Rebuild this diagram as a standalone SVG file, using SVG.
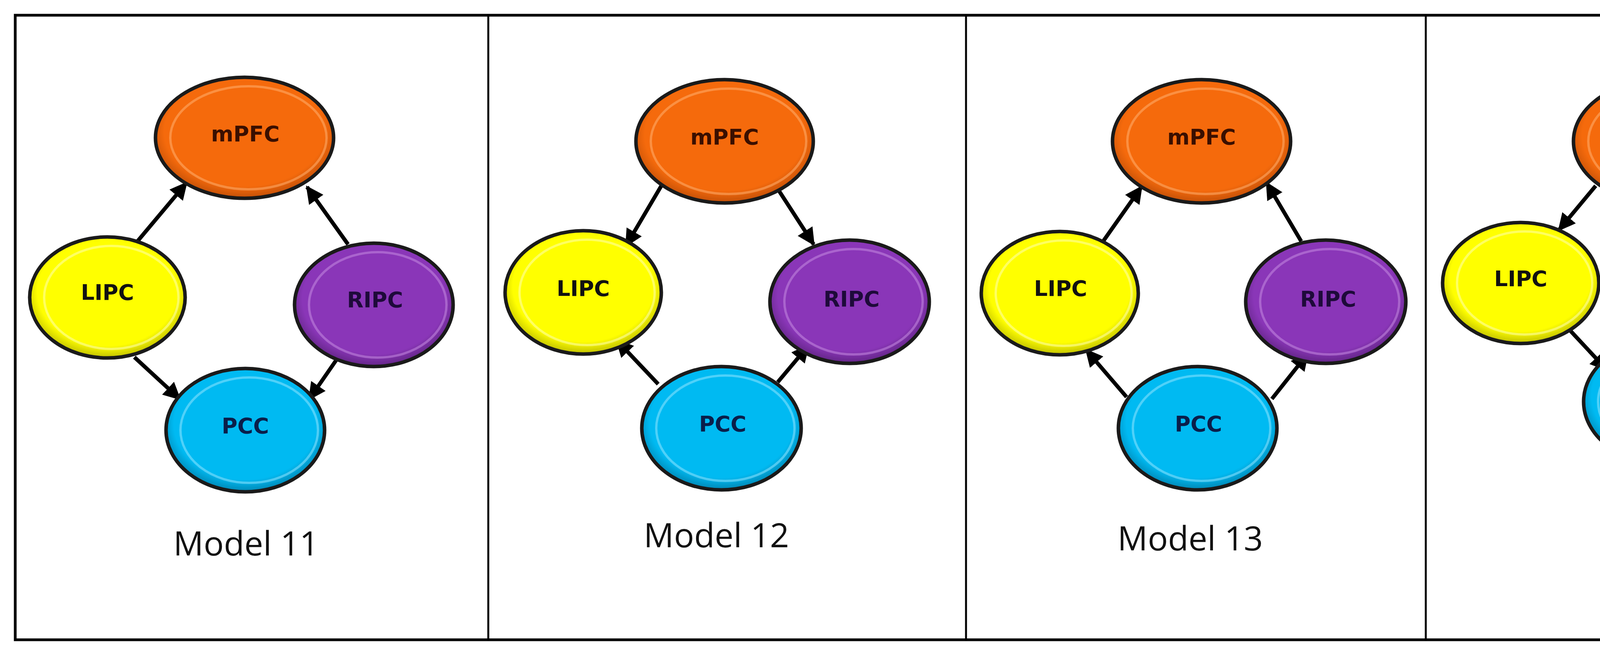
<svg xmlns="http://www.w3.org/2000/svg" width="6088" height="1678" viewBox="0 0 6088 1678">
<defs>
<style>
.frame{fill:#fff;stroke:#000;stroke-width:7}
.div{stroke:#000;stroke-width:5}
.node{stroke:#1a1a1a;stroke-width:9}
.ring{fill:none;stroke-width:6;stroke-opacity:0.55}
.o{fill:url(#go)} .y{fill:url(#gy)} .p{fill:url(#gp)} .c{fill:url(#gc)}
.ro{stroke:#ffae70} .ry{stroke:#ffffb0} .rp{stroke:#c48ae0} .rc{stroke:#8fe4ff}
.nt{font-family:"DejaVu Sans",Verdana,sans-serif;font-weight:bold;font-size:55px;text-anchor:middle}
.lbl{font-family:"Open Sans","Liberation Sans",sans-serif;font-size:86px;text-anchor:middle;fill:#111}
.ar{stroke:#000;stroke-width:10;fill:none;marker-end:url(#ah)}
</style>
<radialGradient id="go" cx="0.5" cy="0.45" r="0.6"><stop offset="0.75" stop-color="#f56a0c"/><stop offset="1" stop-color="#a84205"/></radialGradient>
<radialGradient id="gy" cx="0.5" cy="0.45" r="0.6"><stop offset="0.75" stop-color="#ffff00"/><stop offset="1" stop-color="#a0a000"/></radialGradient>
<radialGradient id="gp" cx="0.5" cy="0.45" r="0.6"><stop offset="0.75" stop-color="#8a36b8"/><stop offset="1" stop-color="#4e1c6c"/></radialGradient>
<radialGradient id="gc" cx="0.5" cy="0.45" r="0.6"><stop offset="0.75" stop-color="#00baf2"/><stop offset="1" stop-color="#006c94"/></radialGradient>
<marker id="ah" viewBox="0 0 10 10" refX="9" refY="5" markerWidth="4.5" markerHeight="4.5" orient="auto" markerUnits="strokeWidth"><path d="M0,0 L10,5 L0,10 z" fill="#000"/></marker>
</defs>
<rect class="frame" x="39" y="39" width="6007" height="1600"/>
<g id="dividers">
<line class="div" x1="1250" y1="39" x2="1250" y2="1639"/>
<line class="div" x1="2473" y1="39" x2="2473" y2="1639"/>
<line class="div" x1="3650" y1="39" x2="3650" y2="1639"/>
<line class="div" x1="4873" y1="39" x2="4873" y2="1639"/>
</g>
<g id="connectors">
<line class="ar" x1="352" y1="618" x2="477" y2="469"/>
<line class="ar" x1="891" y1="626" x2="786" y2="479"/>
<line class="ar" x1="344" y1="915" x2="460" y2="1022"/>
<line class="ar" x1="866" y1="915" x2="792" y2="1022"/>
<line class="ar" x1="1693" y1="476" x2="1603" y2="629"/>
<line class="ar" x1="1993" y1="487" x2="2083" y2="626"/>
<line class="ar" x1="1685" y1="984" x2="1579" y2="872"/>
<line class="ar" x1="1991" y1="979" x2="2069" y2="886"/>
<line class="ar" x1="2815" y1="631" x2="2922" y2="479"/>
<line class="ar" x1="3331" y1="618" x2="3243" y2="469"/>
<line class="ar" x1="2884" y1="1017" x2="2781" y2="897"/>
<line class="ar" x1="3256" y1="1022" x2="3347" y2="907"/>
<line class="ar" x1="4085" y1="476" x2="3991" y2="589"/>
<line class="ar" x1="4407" y1="487" x2="4490" y2="602"/>
<line class="ar" x1="4018" y1="845" x2="4113" y2="947"/>
<line class="ar" x1="4512" y1="856" x2="4434" y2="955"/>
<line class="ar" x1="5126" y1="565" x2="5259" y2="417"/>
<line class="ar" x1="5322" y1="482" x2="5205" y2="612"/>
<line class="ar" x1="5812" y1="576" x2="5687" y2="423"/>
<line class="ar" x1="5646" y1="484" x2="5741" y2="599"/>
<line class="ar" x1="5170" y1="877" x2="5308" y2="1006"/>
<line class="ar" x1="5343" y1="950" x2="5221" y2="845"/>
<line class="ar" x1="5647" y1="950" x2="5746" y2="865"/>
<line class="ar" x1="5801" y1="880" x2="5687" y2="1000"/>
</g>
<g id="m11-mPFC"><ellipse class="node o" cx="626" cy="353" rx="228" ry="155"/><ellipse class="ring ro" cx="636" cy="353" rx="200" ry="132"/><text class="nt" x="628" y="362" fill="#3a0f00">mPFC</text></g>
<g id="m11-LIPC"><ellipse class="node y" cx="275" cy="762" rx="199" ry="155"/><ellipse class="ring ry" cx="285" cy="762" rx="172" ry="132"/><text class="nt" x="275" y="768" fill="#111">LIPC</text></g>
<g id="m11-RIPC"><ellipse class="node p" cx="957" cy="781" rx="203" ry="158"/><ellipse class="ring rp" cx="967" cy="781" rx="176" ry="135"/><text class="nt" x="960" y="787" fill="#1e0a3a">RIPC</text></g>
<g id="m11-PCC"><ellipse class="node c" cx="628" cy="1102" rx="203" ry="158"/><ellipse class="ring rc" cx="638" cy="1102" rx="176" ry="135"/><text class="nt" x="628" y="1110" fill="#0a1e4a">PCC</text></g>
<text class="lbl" x="630" y="1423">Model 11</text>

<g id="m12-mPFC"><ellipse class="node o" cx="1855" cy="362" rx="227" ry="158"/><ellipse class="ring ro" cx="1865" cy="362" rx="199" ry="135"/><text class="nt" x="1855" y="370" fill="#3a0f00">mPFC</text></g>
<g id="m12-LIPC"><ellipse class="node y" cx="1493" cy="749" rx="200" ry="158"/><ellipse class="ring ry" cx="1503" cy="749" rx="173" ry="135"/><text class="nt" x="1493" y="758" fill="#111">LIPC</text></g>
<g id="m12-RIPC"><ellipse class="node p" cx="2175" cy="773" rx="204" ry="158"/><ellipse class="ring rp" cx="2185" cy="773" rx="177" ry="135"/><text class="nt" x="2180" y="785" fill="#1e0a3a">RIPC</text></g>
<g id="m12-PCC"><ellipse class="node c" cx="1847" cy="1097" rx="204" ry="158"/><ellipse class="ring rc" cx="1857" cy="1097" rx="177" ry="135"/><text class="nt" x="1850" y="1105" fill="#0a1e4a">PCC</text></g>
<text class="lbl" x="1834" y="1402">Model 12</text>

<g id="m13-mPFC"><ellipse class="node o" cx="3076" cy="362" rx="228" ry="158"/><ellipse class="ring ro" cx="3086" cy="362" rx="200" ry="135"/><text class="nt" x="3076" y="370" fill="#3a0f00">mPFC</text></g>
<g id="m13-LIPC"><ellipse class="node y" cx="2713" cy="751" rx="201" ry="158"/><ellipse class="ring ry" cx="2723" cy="751" rx="174" ry="135"/><text class="nt" x="2715" y="758" fill="#111">LIPC</text></g>
<g id="m13-RIPC"><ellipse class="node p" cx="3394" cy="773" rx="205" ry="158"/><ellipse class="ring rp" cx="3404" cy="773" rx="178" ry="135"/><text class="nt" x="3400" y="785" fill="#1e0a3a">RIPC</text></g>
<g id="m13-PCC"><ellipse class="node c" cx="3066" cy="1097" rx="203" ry="158"/><ellipse class="ring rc" cx="3076" cy="1097" rx="176" ry="135"/><text class="nt" x="3068" y="1105" fill="#0a1e4a">PCC</text></g>
<text class="lbl" x="3047" y="1410">Model 13</text>

<g id="m14-mPFC"><ellipse class="node o" cx="4255" cy="362" rx="227" ry="158"/><ellipse class="ring ro" cx="4265" cy="362" rx="199" ry="135"/><text class="nt" x="4258" y="370" fill="#3a0f00">mPFC</text></g>
<g id="m14-LIPC"><ellipse class="node y" cx="3893" cy="725" rx="200" ry="155"/><ellipse class="ring ry" cx="3903" cy="725" rx="173" ry="132"/><text class="nt" x="3893" y="733" fill="#111">LIPC</text></g>
<g id="m14-RIPC"><ellipse class="node p" cx="4597" cy="738" rx="204" ry="158"/><ellipse class="ring rp" cx="4607" cy="738" rx="177" ry="135"/><text class="nt" x="4600" y="748" fill="#1e0a3a">RIPC</text></g>
<g id="m14-PCC"><ellipse class="node c" cx="4258" cy="1029" rx="204" ry="158"/><ellipse class="ring rc" cx="4268" cy="1029" rx="177" ry="135"/><text class="nt" x="4260" y="1037" fill="#0a1e4a">PCC</text></g>
<text class="lbl" x="4291" y="1396">Model 14</text>

<g id="m15-mPFC"><ellipse class="node o" cx="5478" cy="358" rx="225" ry="160"/><ellipse class="ring ro" cx="5488" cy="358" rx="197" ry="137"/><text class="nt" x="5480" y="366" fill="#3a0f00">mPFC</text></g>
<g id="m15-LIPC"><ellipse class="node y" cx="5119" cy="728" rx="201" ry="155"/><ellipse class="ring ry" cx="5129" cy="728" rx="174" ry="132"/><text class="nt" x="5121" y="734" fill="#111">LIPC</text></g>
<g id="m15-RIPC"><ellipse class="node p" cx="5823" cy="738" rx="204" ry="158"/><ellipse class="ring rp" cx="5833" cy="738" rx="177" ry="135"/><text class="nt" x="5825" y="748" fill="#1e0a3a">RIPC</text></g>
<g id="m15-PCC"><ellipse class="node c" cx="5502" cy="1070" rx="201" ry="158"/><ellipse class="ring rc" cx="5512" cy="1070" rx="174" ry="135"/><text class="nt" x="5502" y="1074" fill="#0a1e4a">PCC</text></g>
<text class="lbl" x="5442" y="1391">Model 15</text>
</svg>
